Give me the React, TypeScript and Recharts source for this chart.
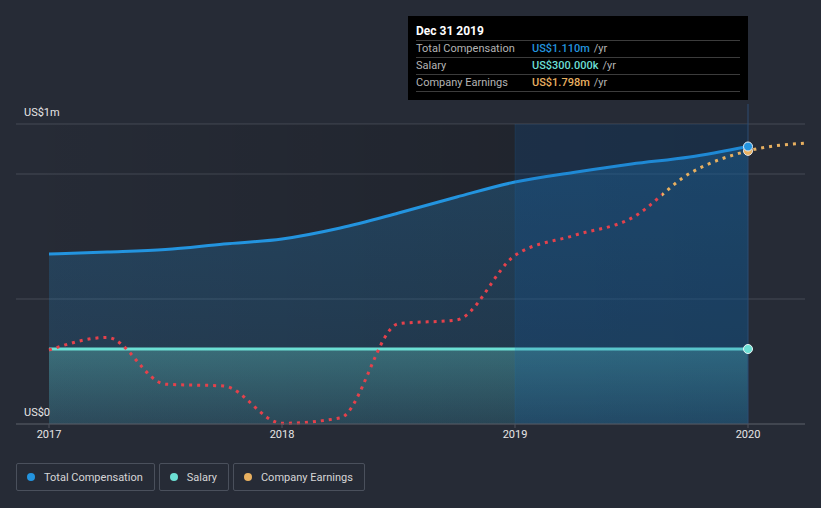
import React from 'react';
import {
  ComposedChart,
  Area,
  Line,
  XAxis,
  YAxis,
  CartesianGrid,
  ReferenceArea,
  ReferenceLine,
  ReferenceDot,
} from 'recharts';

if (typeof document !== 'undefined') {
  document.body.style.margin = '0';
  document.body.style.background = '#262b36';
}

// quarters, as decimal years
const periods = [2017, 2017.25, 2017.5, 2017.75, 2018, 2018.25, 2018.5, 2018.75, 2019, 2019.25, 2019.5, 2019.75, 2020, 2020.25];
const totalCompensation = [680000, 688000, 698000, 720000, 740000, 784000, 844000, 908000, 968000, 1006000, 1040000, 1068000, 1110000, null];
const salary = [300000, 300000, 300000, 300000, 300000, 300000, 300000, 300000, 300000, 300000, 300000, 300000, 300000, null];
const companyEarnings = [487000, 570000, 262000, 250000, 5000, 40000, 660000, 685000, 1110000, 1240000, 1355000, 1650000, 1798000, 1850000];

const xTicks = [2017, 2018, 2019, 2020];
const yTicks = [0, 500000, 1000000, 1200000];
const yTickLabels: Record<number, string> = {0: 'US$0', 1200000: 'US$1m'};
const earningsDomain = [0, 1975000];
const highlight = {from: 2019, to: 2020, label: 'Dec 31 2019'};
const earningsTurn = 2019.63; // red -> orange

const series = [
  {key: 'total', name: 'Total Compensation', color: '#2394df'},
  {key: 'salary', name: 'Salary', color: '#6cdfd4'},
  {key: 'earnings', name: 'Company Earnings', color: '#e8b060'},
];

const data = periods.map((p, i) => ({
  period: p,
  total: totalCompensation[i],
  salary: salary[i],
  earnings: companyEarnings[i],
}));

const lastIdx = periods.indexOf(highlight.to);

const fmtM = (v: number) => `US$${(v / 1e6).toFixed(3)}m`;
const fmtK = (v: number) => `US$${(v / 1e3).toFixed(3)}k`;

const font = 'Roboto, "Noto Sans", sans-serif';
const xMin = 2017 - 33 / 233;
const xMax = 2020 + 57 / 233;
const earnTurnOffset = (earningsTurn - periods[0]) / (periods[periods.length - 1] - periods[0]);

const YTick = (props: any) => {
  const label = yTickLabels[props.payload.value];
  if (!label) return null;
  return (
    <text x={24} y={props.y - 12} dy="0.35em" fill="#e6e6e6" fontSize={11} fontFamily={font}>
      {label}
    </text>
  );
};

const tooltipRows = [
  {label: 'Total Compensation', value: fmtM(totalCompensation[lastIdx] as number), color: series[0].color},
  {label: 'Salary', value: fmtK(salary[lastIdx] as number), color: series[1].color},
  {label: 'Company Earnings', value: fmtM(companyEarnings[lastIdx]), color: series[2].color},
];

export default function App() {
  return (
    <div style={{position: 'relative', width: 821, height: 508, background: '#262b36', fontFamily: font}}>
      <ComposedChart width={821} height={508} data={data} margin={{top: 124, right: 16, bottom: 54, left: 16}}>
        <defs>
          <linearGradient id="pastShade" x1="0" y1="0" x2="1" y2="0">
            <stop offset="0%" stopColor="#000" stopOpacity={0} />
            <stop offset="100%" stopColor="#000" stopOpacity={0.22} />
          </linearGradient>
          <linearGradient id="totalFill" x1="0" y1="0" x2="0" y2="1">
            <stop offset="0%" stopColor="#2394df" stopOpacity={0.26} />
            <stop offset="100%" stopColor="#2394df" stopOpacity={0.14} />
          </linearGradient>
          <linearGradient id="salaryFill" x1="0" y1="0" x2="0" y2="1">
            <stop offset="0%" stopColor="#6cdfd4" stopOpacity={0.3} />
            <stop offset="100%" stopColor="#6cdfd4" stopOpacity={0.1} />
          </linearGradient>
          <linearGradient id="earnStroke" x1="0" y1="0" x2="1" y2="0">
            <stop offset={earnTurnOffset} stopColor="#e5414b" />
            <stop offset={earnTurnOffset} stopColor="#e8b060" />
          </linearGradient>
        </defs>
        <ReferenceArea yAxisId="comp" x1={xMin} x2={highlight.to} y1={0} y2={1200000} fill="url(#pastShade)" fillOpacity={1} stroke="none" ifOverflow="hidden" />
        <CartesianGrid yAxisId="comp" horizontal vertical={false} stroke="#454a55" />
        <XAxis
          type="number"
          dataKey="period"
          domain={[xMin, xMax]}
          ticks={xTicks}
          allowDataOverflow
          tickFormatter={(v) => String(v)}
          axisLine={{stroke: '#4e535d'}}
          tickLine={{stroke: '#4e535d'}}
          tickSize={4}
          tick={{fill: '#e6e6e6', fontSize: 11, fontFamily: font}}
        />
        <YAxis yAxisId="comp" domain={[0, 1200000]} ticks={yTicks} mirror axisLine={false} tickLine={false} tick={<YTick />} />
        <YAxis yAxisId="earn" domain={earningsDomain} hide />
        <Area yAxisId="comp" type="monotone" dataKey="total" stroke={series[0].color} strokeWidth={3} fill="url(#totalFill)" fillOpacity={1} dot={false} activeDot={false} isAnimationActive={false} />
        <Area yAxisId="comp" type="monotone" dataKey="salary" stroke={series[1].color} strokeWidth={3} fill="url(#salaryFill)" fillOpacity={1} dot={false} activeDot={false} isAnimationActive={false} />
        <Line yAxisId="earn" type="monotone" dataKey="earnings" stroke="url(#earnStroke)" strokeWidth={3} strokeDasharray="3 5" dot={false} activeDot={false} isAnimationActive={false} />
        <ReferenceArea yAxisId="comp" x1={highlight.from} x2={highlight.to} y1={0} y2={1200000} fill="#1060b0" fillOpacity={0.2} stroke="none" />
        <ReferenceLine yAxisId="comp" x={highlight.from} stroke="#2394df" strokeOpacity={0.1} />
        <ReferenceLine
          yAxisId="comp"
          segment={[{x: highlight.to, y: 0}, {x: highlight.to, y: 1280000}]}
          stroke="#2d4d73"
          ifOverflow="visible"
        />
        <ReferenceDot yAxisId="comp" x={highlight.to} y={salary[lastIdx] as number} r={4.5} fill={series[1].color} stroke="#e8f4f4" strokeWidth={1} />
        <ReferenceDot yAxisId="earn" x={highlight.to} y={companyEarnings[lastIdx]} r={4.5} fill={series[2].color} stroke="#e8e8e8" strokeWidth={1} />
        <ReferenceDot yAxisId="comp" x={highlight.to} y={totalCompensation[lastIdx] as number} r={4.5} fill={series[0].color} stroke="#e8eef4" strokeWidth={1} />
      </ComposedChart>

      <div
        style={{
          position: 'absolute',
          left: 408,
          top: 16,
          width: 340,
          height: 84,
          background: '#000',
          boxSizing: 'border-box',
          padding: '0 8px',
        }}
      >
        <div style={{height: 24, lineHeight: '30px', color: '#fff', fontWeight: 'bold', fontSize: 12, borderBottom: '1px solid #3c3c3c'}}>
          {highlight.label}
        </div>
        {tooltipRows.map((r) => (
          <div key={r.label} style={{display: 'flex', height: 16, lineHeight: '16px', fontSize: 11, borderBottom: '1px solid #3c3c3c'}}>
            <span style={{width: 116, color: '#b4b4b4'}}>{r.label}</span>
            <span style={{color: r.color, fontWeight: 500}}>{r.value}</span>
            <span style={{color: '#b4b4b4', marginLeft: 4}}>/yr</span>
          </div>
        ))}
      </div>

      <div style={{position: 'absolute', left: 16, top: 463, display: 'flex', gap: 4}}>
        {series.map((s) => (
          <div
            key={s.key}
            style={{
              height: 28,
              boxSizing: 'border-box',
              border: '1px solid #4a505c',
              borderRadius: 2,
              display: 'flex',
              alignItems: 'center',
              padding: '0 11px 0 10px',
              fontSize: 11,
              color: '#d6d6d6',
            }}
          >
            <span style={{width: 8, height: 8, borderRadius: 4, background: s.color, marginRight: 9}} />
            {s.name}
          </div>
        ))}
      </div>
    </div>
  );
}
